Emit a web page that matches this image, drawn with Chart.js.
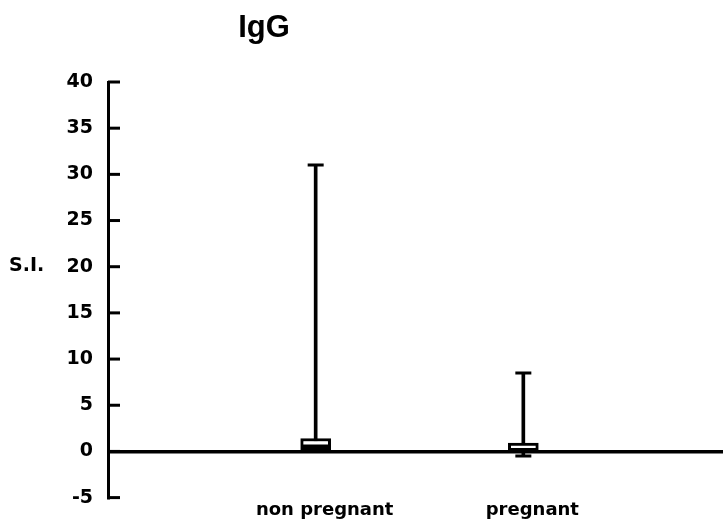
<!DOCTYPE html>
<html>
<head>
<meta charset="utf-8">
<script src="https://cdn.jsdelivr.net/npm/chart.js@4/dist/chart.umd.min.js"></script>
<style>
  html, body { margin:0; padding:0; background:#fff; overflow:hidden; }
  #wrap { width:723px; height:524px; overflow:hidden; }
</style>
</head>
<body>
<div id="wrap"><canvas id="chart" width="748" height="524"></canvas></div>
<script>
// data
const groups = ['', 'non pregnant', 'pregnant', ''];
const whiskerMin = [null, 0.05, -0.5, null];
const whiskerMax = [null, 31, 8.5, null];
const boxLow = [null, 0.2, -0.1, null];
const boxHigh = [null, 1.4, 0.9, null];
const medians = [null, 0.6, 0.2, null];
const yTicks = [-5, 0, 5, 10, 15, 20, 25, 30, 35, 40];

const ink = '#000';
const tickFont = { family: 'DejaVu Sans', weight: 'bold', size: 19 };

// helpers
const pairs = (a, b) => a.map((v, i) => v === null ? null : [v, b[i]]);

// draws inward tick marks, the S.I. label and the title
const extras = {
  id: 'extras',
  afterDraw(chart) {
    const ctx = chart.ctx, y = chart.scales.y, left = chart.chartArea.left;
    ctx.save();
    ctx.strokeStyle = ink; ctx.lineWidth = 3;
    y.ticks.forEach(t => {
      const py = y.getPixelForValue(t.value);
      ctx.beginPath(); ctx.moveTo(left, py); ctx.lineTo(left + 12, py); ctx.stroke();
    });
    ctx.fillStyle = ink;
    ctx.textBaseline = 'alphabetic';
    ctx.font = 'bold 19px "DejaVu Sans"';
    ctx.textAlign = 'left';
    ctx.fillText('S.I.', 9, 271);
    ctx.font = 'bold 31px "Liberation Sans"';
    ctx.textAlign = 'center';
    ctx.fillText('IgG', 264, 37);
    ctx.restore();
  }
};

new Chart(document.getElementById('chart'), {
  type: 'bar',
  data: {
    labels: groups,
    datasets: [
      { label: 'range', data: pairs(whiskerMin, whiskerMax), backgroundColor: ink, borderWidth: 0,
        barThickness: 3, grouped: false, order: 3 },
      { label: 'box', data: pairs(boxLow, boxHigh), backgroundColor: '#fff', borderColor: ink,
        borderWidth: 3, borderSkipped: false, barThickness: 30, grouped: false, order: 2 },
      { type: 'line', label: 'median', data: medians, showLine: false, pointStyle: 'line',
        pointRadius: 14, borderColor: ink, pointBorderWidth: 3, order: 1 },
      { type: 'line', label: 'max', data: whiskerMax, showLine: false, pointStyle: 'line',
        pointRadius: 8, borderColor: ink, pointBorderWidth: 3, order: 1 },
      { type: 'line', label: 'min', data: whiskerMin, showLine: false, pointStyle: 'line',
        pointRadius: 8, borderColor: ink, pointBorderWidth: 3, order: 1 }
    ]
  },
  options: {
    responsive: false,
    animation: false,
    layout: { padding: { top: 82, left: 0, right: 0, bottom: 0 } },
    plugins: { legend: { display: false }, tooltip: { enabled: false }, title: { display: false } },
    scales: {
      x: {
        offset: false,
        grid: { display: false, drawTicks: false },
        border: { display: false },
        ticks: { color: ink, font: { family: 'DejaVu Sans', weight: 'bold', size: 18 },
                 padding: 2, labelOffset: 9, maxRotation: 0, autoSkip: false }
      },
      y: {
        min: -5, max: 40,
        afterBuildTicks: s => { s.ticks = yTicks.map(v => ({ value: v })); },
        afterFit: s => { s.width = 108; },
        grid: { drawTicks: false, lineWidth: 3.5,
                color: c => c.tick && c.tick.value === 0 ? ink : 'rgba(0,0,0,0)' },
        border: { display: true, color: ink, width: 3 },
        ticks: { color: ink, font: tickFont, padding: 15 }
      }
    }
  },
  plugins: [extras]
});
</script>
</body>
</html>
